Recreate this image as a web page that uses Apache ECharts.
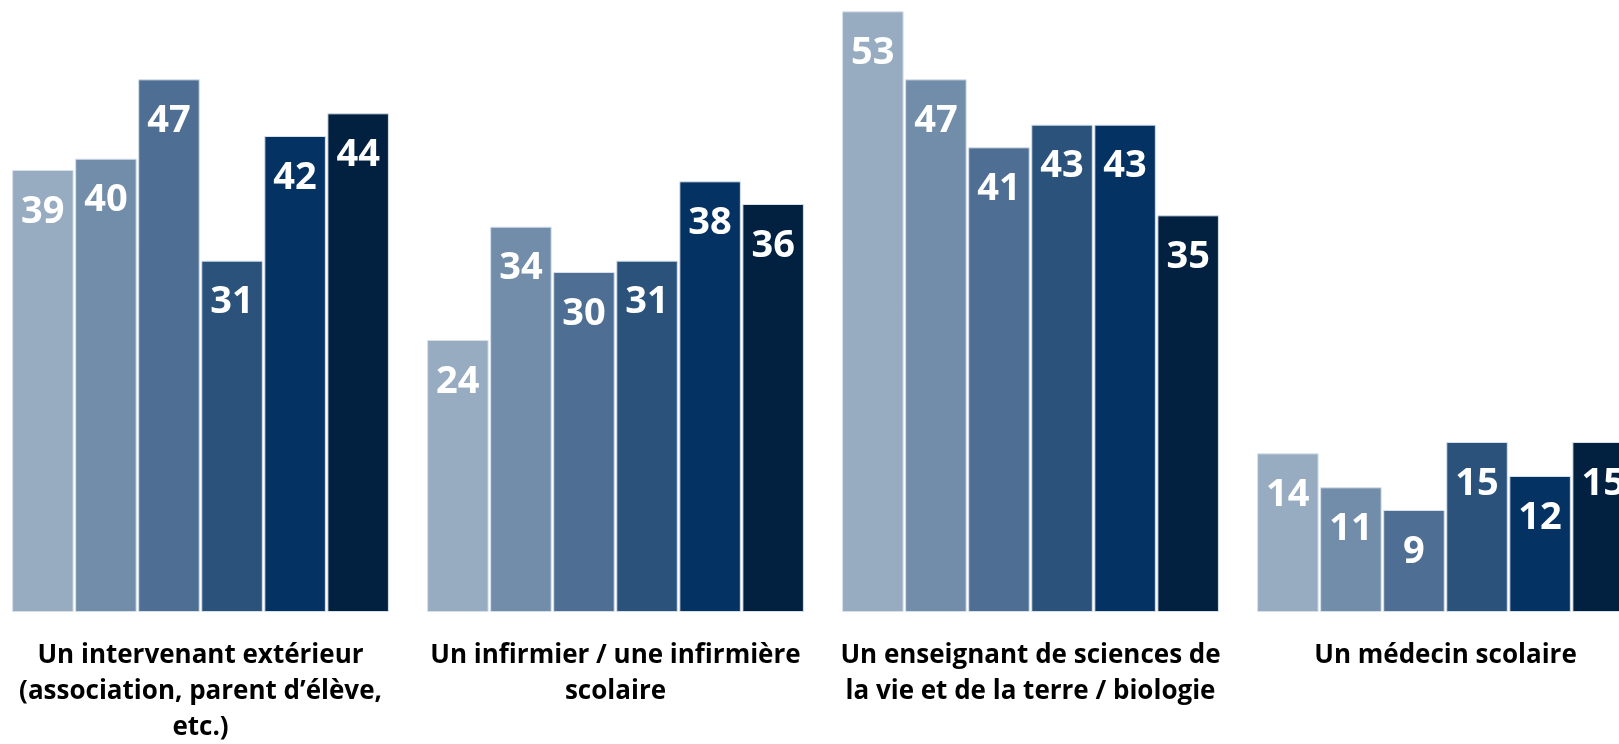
<!DOCTYPE html>
<html>
<head>
<meta charset="utf-8">
<script src="https://cdn.jsdelivr.net/npm/echarts@6/dist/echarts.min.js"></script>
<style>
html,body{margin:0;padding:0;background:#fff;}
#chart{width:1619px;height:744px;}
</style>
</head>
<body>
<div id="chart"></div>
<script>
const categories = [
  "Un intervenant extérieur\n(association, parent d’élève,\netc.)",
  "Un infirmier / une infirmière\nscolaire",
  "Un enseignant de sciences de\nla vie et de la terre / biologie",
  "Un médecin scolaire"
];
const series1 = [39, 24, 53, 14];
const series2 = [40, 34, 47, 11];
const series3 = [47, 30, 41, 9];
const series4 = [31, 31, 43, 15];
const series5 = [42, 38, 43, 12];
const series6 = [44, 36, 35, 15];
const seriesValues = [series1, series2, series3, series4, series5, series6];
const colors = ["#98ACC1", "#728DA9", "#4E6F93", "#2A527B", "#033263", "#02203F"];

const chart = echarts.init(document.getElementById('chart'), null, {renderer: 'canvas'});
chart.setOption({
  animation: false,
  backgroundColor: '#ffffff',
  grid: {left: -7, right: -34, top: 0, bottom: 132, containLabel: false, outerBoundsMode: 'none'},
  xAxis: {
    type: 'category',
    data: categories,
    axisLine: {show: false},
    axisTick: {show: false},
    axisLabel: {
      interval: 0,
      margin: 26,
      verticalAlign: 'top',
      color: '#000000',
      fontFamily: 'Open Sans',
      fontWeight: 'bold',
      fontSize: 26,
      lineHeight: 36
    }
  },
  yAxis: {
    type: 'value', min: 0, max: 54,
    show: false,
    splitLine: {show: false}
  },
  series: seriesValues.map((vals, i) => ({
    type: 'bar',
    data: vals,
    barCategoryGap: '9.2%',
    barGap: '2.5%',
    itemStyle: {color: colors[i], borderColor: '#d6e0eb', borderWidth: 1},
    label: {
      show: true,
      position: 'insideTop',
      distance: 23,
      color: '#ffffff',
      fontFamily: 'Open Sans',
      fontWeight: 'bold',
      fontSize: 38
    }
  }))
});
</script>
</body>
</html>
